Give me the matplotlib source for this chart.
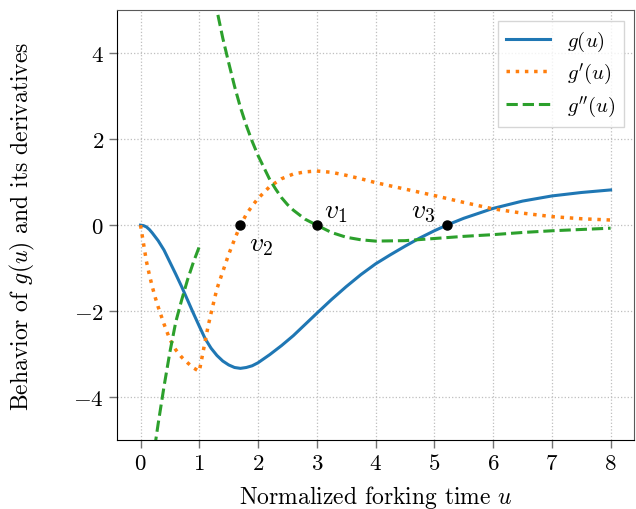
import matplotlib
matplotlib.use('Agg')
import matplotlib.pyplot as plt

plt.rcParams['font.family'] = 'serif'
plt.rcParams['font.serif'] = ['cmr10', 'DejaVu Serif']
plt.rcParams['mathtext.fontset'] = 'cm'
plt.rcParams['axes.formatter.use_mathtext'] = True

# g(u)
u_g = [0.0, 0.05, 0.1, 0.15, 0.2, 0.3, 0.4, 0.5, 0.6, 0.7, 0.8, 0.9, 1.0, 1.1,
       1.2, 1.3, 1.4, 1.5, 1.6, 1.7, 1.8, 1.9, 2.0, 2.2, 2.4, 2.6, 2.8, 3.0,
       3.25, 3.5, 3.75, 4.0, 4.25, 4.5, 4.75, 5.0, 5.21, 5.5, 6.0, 6.5, 7.0,
       7.5, 8.0]
g = [0.00, -0.01, -0.04, -0.10, -0.18, -0.36, -0.58, -0.86, -1.14, -1.43, -1.74,
     -2.05, -2.35, -2.64, -2.86, -3.03, -3.16, -3.25, -3.31, -3.33, -3.31, -3.27,
     -3.20, -3.01, -2.80, -2.57, -2.31, -2.05, -1.73, -1.43, -1.15, -0.90, -0.69,
     -0.49, -0.30, -0.13, 0.00, 0.16, 0.39, 0.56, 0.68, 0.76, 0.82]

# g'(u)
u_g1 = [0.0, 0.05, 0.1, 0.15, 0.2, 0.25, 0.3, 0.4, 0.5, 0.6, 0.7, 0.8, 0.9, 1.0,
        1.05, 1.1, 1.15, 1.2, 1.3, 1.4, 1.5, 1.6, 1.7, 1.8, 1.9, 2.0, 2.2, 2.4,
        2.6, 2.8, 3.0, 3.25, 3.5, 3.75, 4.0, 4.5, 5.0, 5.5, 6.0, 6.5, 7.0, 7.5, 8.0]
g1 = [0.0, -0.42, -0.84, -1.15, -1.43, -1.68, -1.90, -2.30, -2.66, -2.90, -3.07,
      -3.20, -3.32, -3.40, -3.05, -2.70, -2.35, -2.05, -1.48, -1.08, -0.68, -0.33,
      0.0, 0.25, 0.45, 0.62, 0.90, 1.08, 1.19, 1.24, 1.26, 1.23, 1.16, 1.08, 0.99,
      0.84, 0.69, 0.53, 0.38, 0.28, 0.20, 0.15, 0.12]

# g''(u), two branches (u < 1 and u > 1)
u_g2a = [0.2, 0.3, 0.4, 0.5, 0.6, 0.7, 0.8, 0.9, 1.0]
g2a = [-5.55, -4.62, -3.75, -2.95, -2.25, -1.74, -1.27, -0.86, -0.50]
u_g2b = [1.2, 1.3, 1.4, 1.5, 1.6, 1.7, 1.8, 1.9, 2.0, 2.1, 2.2, 2.3, 2.4, 2.5,
         2.6, 2.8, 3.0, 3.25, 3.5, 3.75, 4.0, 4.5, 5.0, 5.5, 6.0, 6.5, 7.0, 7.5, 8.0]
g2b = [5.7, 5.0, 4.35, 3.78, 3.23, 2.74, 2.32, 1.95, 1.62, 1.34, 1.06, 0.84, 0.64,
       0.48, 0.35, 0.14, 0.0, -0.17, -0.28, -0.34, -0.37, -0.36, -0.31, -0.26,
       -0.22, -0.17, -0.13, -0.10, -0.07]

# marked points
v_names = [r'$v_1$', r'$v_2$', r'$v_3$']
v_u = [3.0, 1.7, 5.21]
v_y = [0.0, 0.0, 0.0]

fig = plt.figure(figsize=(6.36, 5.10), dpi=100)
ax = fig.add_axes([0.184, 0.135, 0.813, 0.843])

ax.plot(u_g, g, color='#1f77b4', lw=2.2, label=r'$g(u)$')
ax.plot(u_g1, g1, color='#ff7f0e', lw=2.5, ls=':', label=r"$g'(u)$")
ax.plot(u_g2a, g2a, color='#2ca02c', lw=2.2, ls='--', label=r"$g''(u)$")
ax.plot(u_g2b, g2b, color='#2ca02c', lw=2.2, ls='--')
ax.plot(v_u, v_y, 'o', color='black', ms=6.5, zorder=5)

ax.text(3.13, 0.18, v_names[0], fontsize=20)
ax.text(1.85, -0.12, v_names[1], fontsize=20, va='top')
ax.text(4.6, 0.18, v_names[2], fontsize=20)

ax.set_xlim(-0.4, 8.4)
ax.set_ylim(-5, 5)
ax.set_xticks(range(0, 9))
ax.set_yticks([-4, -2, 0, 2, 4])
ax.grid(True, ls=':', color='0.75', lw=0.9)
ax.tick_params(labelsize=16.5, length=6, width=1, color='0.45')
for s in ['top', 'right']:
    ax.spines[s].set_color('0.35')

ax.set_xlabel(r'Normalized forking time $u$', fontsize=17, labelpad=7)
ax.set_ylabel(r'Behavior of $g(u)$ and its derivatives', fontsize=17, labelpad=26)
ax.legend(loc='upper right', fontsize=15, handlelength=2.1, labelspacing=0.35,
          fancybox=False, edgecolor='0.8')

fig.savefig('out.png', dpi=100)
